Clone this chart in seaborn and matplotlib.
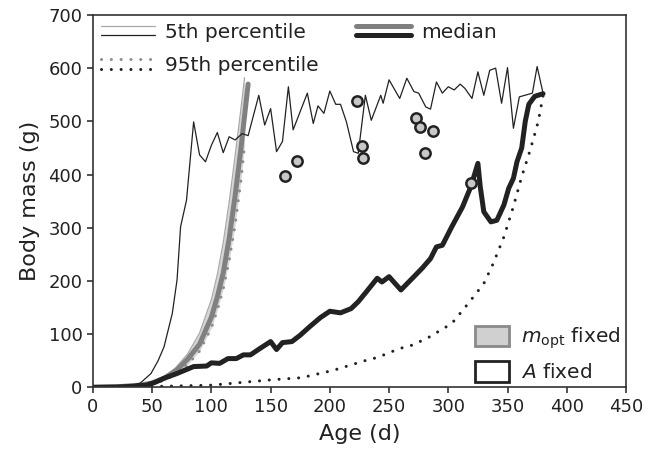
import matplotlib
matplotlib.use("Agg")
import matplotlib.pyplot as plt
import seaborn as sns
from matplotlib.lines import Line2D
from matplotlib.patches import Patch
from matplotlib.legend_handler import HandlerBase

# --- data (age in days, body mass in g) ---
# "A fixed" runs (black)
a5_age = [0, 20, 30, 40, 49, 55, 60, 67, 71, 74, 79, 85, 90, 95, 100, 105, 110, 115,
          120, 126, 131, 140, 145, 150, 155, 160, 165, 169, 181, 186, 190, 195, 200,
          205, 209, 214, 220, 224, 230, 235, 243, 245, 250, 259, 265, 271, 275, 281,
          285, 290, 295, 300, 305, 310, 314, 320, 325, 330, 335, 340, 345, 350, 355,
          360, 371, 375, 380]
a5_mass = [0, 0.5, 2, 8, 26, 50, 76, 139, 202, 302, 352, 499, 437, 424, 455, 479, 441,
           471, 465, 477, 473, 549, 493, 524, 443, 462, 565, 484, 553, 496, 529, 515,
           557, 532, 532, 499, 443, 440, 549, 502, 549, 534, 578, 543, 581, 556, 553,
           527, 523, 574, 553, 565, 559, 570, 562, 543, 593, 549, 596, 600, 534, 601,
           487, 546, 553, 603, 553]

amed_age = [0, 20, 35, 45, 52, 60, 71, 85, 96, 100, 107, 114, 121, 127, 133, 141, 150,
            155, 160, 168, 175, 183, 192, 200, 209, 218, 224, 231, 240, 244, 250, 260,
            271, 278, 285, 290, 295, 303, 312, 319, 325, 327, 330, 336, 341, 347, 351,
            355, 358, 362, 365, 368, 373, 380]
amed_mass = [0, 0.5, 2, 4, 9, 17, 26, 39, 40, 46, 45, 54, 54, 61, 61, 73, 86, 71, 84,
             86, 98, 114, 131, 143, 140, 148, 161, 180, 205, 198, 208, 183, 208, 224,
             242, 264, 267, 302, 339, 377, 421, 377, 330, 311, 314, 343, 374, 393, 424,
             450, 500, 532, 547, 552]

a95_age = [0, 40, 60, 80, 100, 130, 150, 176, 203, 231, 240, 259, 268, 282, 303, 317,
           330, 338, 347, 355, 362, 368, 372, 376, 380]
a95_mass = [0, 1, 2, 3, 4, 10, 14, 18, 32, 51, 56, 73, 78, 92, 120, 158, 195, 233, 283,
            340, 396, 438, 468, 500, 548]

# "m_opt fixed" runs (grey)
g_age = [0, 20, 40, 50, 60, 70, 80, 90, 100, 105, 110, 115, 120, 125, 128]
g5_mass = [0, 1, 5, 10, 20, 37, 63, 102, 165, 212, 272, 348, 435, 525, 582]
g95_mass = [0, 1, 3, 6, 13, 25, 43, 68, 112, 145, 185, 238, 305, 390, 455]
gmed_age = [0, 20, 40, 50, 60, 70, 80, 90, 100, 105, 110, 115, 120, 125, 131]
gmed_mass = [0, 1, 4, 8, 17, 31, 53, 81, 132, 170, 215, 280, 360, 450, 570]

# individual birds
obs_age = [162, 172, 223, 227, 228, 273, 276, 280, 287, 319]
obs_mass = [397, 425, 539, 453, 432, 507, 490, 440, 482, 385]

sns.set_style("ticks")
plt.rcParams["font.family"] = ["DejaVu Sans"]
plt.rcParams["mathtext.fontset"] = "dejavusans"

INK = "#222222"
DOTS = (0, (0.01, 3.2))

thin_black = dict(color=INK, lw=0.9, ls="-")
thick_black = dict(color=INK, lw=3.6, ls="-", solid_capstyle="round")
dot_black = dict(color=INK, lw=2.2, ls=DOTS, dash_capstyle="round")
thin_grey = dict(color="#a8a8a8", lw=0.9, ls="-")
thick_grey = dict(color="#808080", lw=3.6, ls="-", solid_capstyle="round")
dot_grey = dict(color="#8c8c8c", lw=2.2, ls=DOTS, dash_capstyle="round")


class StackedLines(HandlerBase):
    """legend handle: grey line above, black line below"""
    def create_artists(self, legend, orig_handle, xdescent, ydescent,
                       width, height, fontsize, trans):
        out = []
        for proxy, frac in zip(orig_handle, (0.85, 0.2)):
            y = -ydescent + height * frac
            ln = Line2D([-xdescent, -xdescent + width], [y, y])
            ln.update_from(proxy)
            ln.set_transform(trans)
            out.append(ln)
        return out


fig = plt.figure(figsize=(6.5, 4.53), dpi=100)
ax = fig.add_axes([0.143, 0.145, 0.820, 0.822])

# grey band + grey lines
ax.fill_between(g_age, g95_mass, g5_mass, color="#d6d6d6", lw=0)
sns.lineplot(x=g_age, y=g5_mass, ax=ax, estimator=None, sort=False, **thin_grey)
sns.lineplot(x=g_age, y=g95_mass, ax=ax, estimator=None, sort=False, **dot_grey)
sns.lineplot(x=gmed_age, y=gmed_mass, ax=ax, estimator=None, sort=False, **thick_grey)

# black lines
sns.lineplot(x=a95_age, y=a95_mass, ax=ax, estimator=None, sort=False, **dot_black)
sns.lineplot(x=amed_age, y=amed_mass, ax=ax, estimator=None, sort=False, **thick_black)
sns.lineplot(x=a5_age, y=a5_mass, ax=ax, estimator=None, sort=False, **thin_black)

sns.scatterplot(x=obs_age, y=obs_mass, ax=ax, s=55, color="#c8c8c8",
                edgecolor=INK, linewidth=1.8, zorder=5)

ax.set_xlim(0, 450)
ax.set_ylim(0, 700)
ax.set_xticks(range(0, 451, 50))
ax.set_yticks(range(0, 701, 100))
ax.set_xlabel("Age (d)", fontsize=16, color=INK, labelpad=6)
ax.set_ylabel("Body mass (g)", fontsize=16, color=INK, labelpad=6)
ax.tick_params(labelsize=13, colors=INK, length=4, width=1.1, direction="out")
for sp in ax.spines.values():
    sp.set_color("#333333")
    sp.set_linewidth(1.2)

# percentile legend
pct_handles = [
    (Line2D([], [], **thin_grey), Line2D([], [], **thin_black)),
    (Line2D([], [], **dot_grey), Line2D([], [], **dot_black)),
    (Line2D([], [], **thick_grey), Line2D([], [], **thick_black)),
]
pct_labels = ["5th percentile", "95th percentile", "median"]
leg1 = ax.legend(pct_handles, pct_labels, handler_map={tuple: StackedLines()},
                 ncol=2, loc="upper left", bbox_to_anchor=(0.0, 1.0),
                 frameon=False, fontsize=14.5, handlelength=2.7, handleheight=0.75,
                 handletextpad=0.5, columnspacing=1.85, labelspacing=0.7,
                 borderaxespad=0.2, borderpad=0.2)
for t in leg1.get_texts():
    t.set_color(INK)
ax.add_artist(leg1)

# model legend
box_handles = [Patch(facecolor="#d0d0d0", edgecolor="#8a8a8a", lw=2.0),
               Patch(facecolor="white", edgecolor=INK, lw=2.0)]
box_labels = [r"$m_{\mathrm{opt}}$ fixed", r"$A$ fixed"]
leg2 = ax.legend(box_handles, box_labels, loc="lower right", frameon=False,
                 fontsize=14.5, handlelength=1.7, handleheight=1.2,
                 handletextpad=0.6, labelspacing=0.5, borderaxespad=0.15,
                 borderpad=0.1)
for t in leg2.get_texts():
    t.set_color(INK)

fig.savefig("out.png", dpi=100)
